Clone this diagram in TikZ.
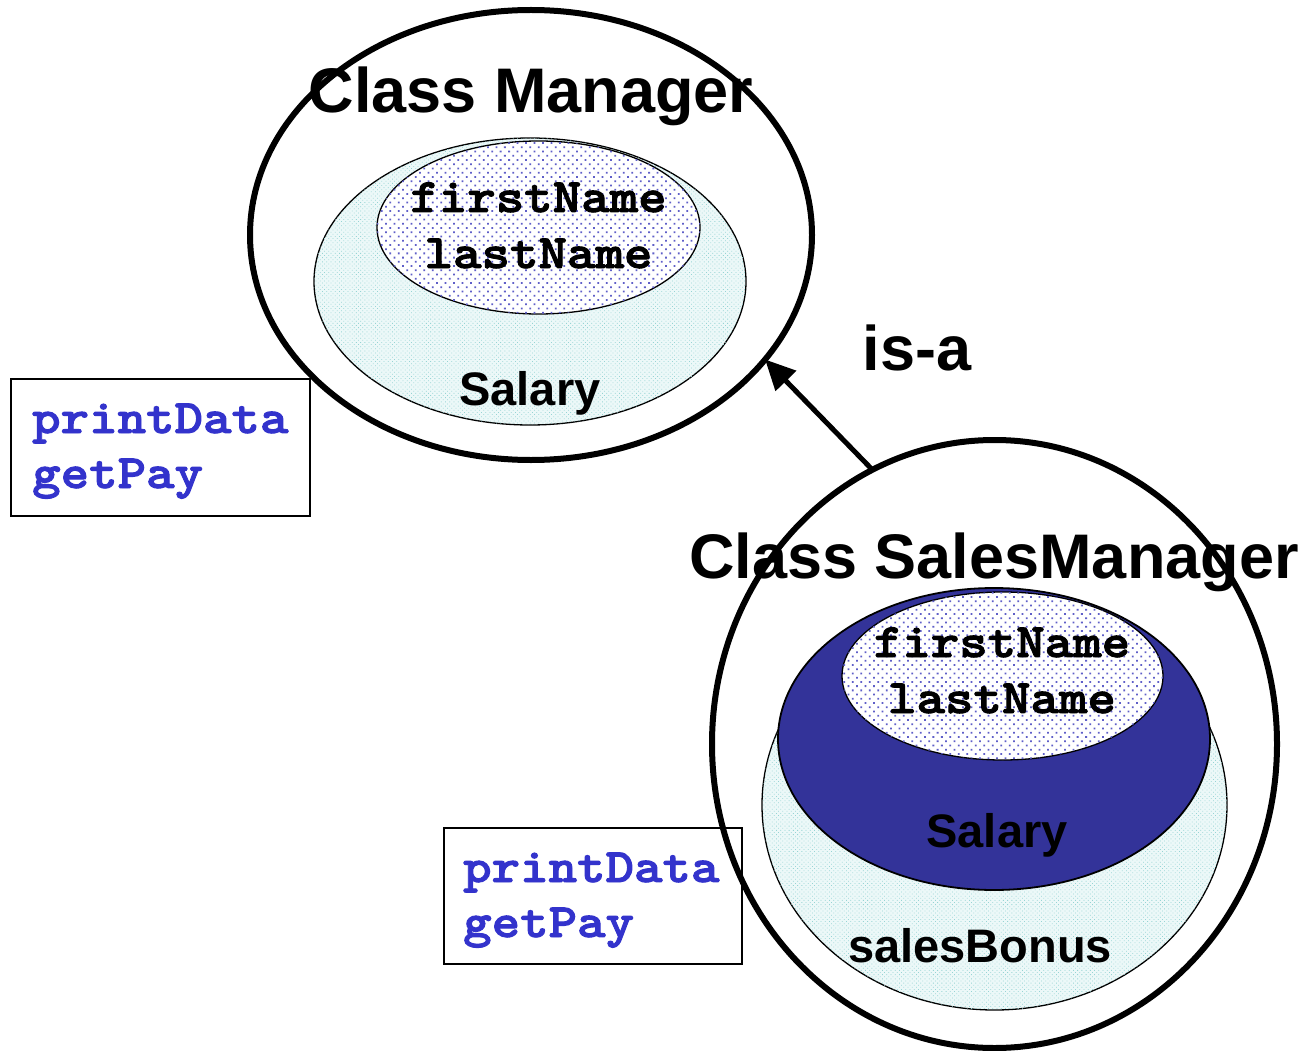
\documentclass[tikz,border=0pt]{standalone}
\usepackage{fontspec}
\setmainfont{Liberation Sans}
\newfontfamily\codefont[FakeStretch=1.13, FakeBold=2]{lmmonolt10-bold.otf}
\usetikzlibrary{shapes.geometric,arrows.meta,patterns.meta}

\definecolor{codeblue}{RGB}{51,51,204}
\definecolor{slotblue}{RGB}{51,51,153}
\definecolor{dotblue}{RGB}{95,95,200}
\definecolor{dotcyan}{RGB}{150,212,212}
\definecolor{paleCyan}{RGB}{236,248,248}

\tikzset{
  classring/.style={ellipse, draw=black, line width=6pt, inner sep=0pt, outer sep=0pt},
  fieldring/.style={ellipse, draw=black, line width=1.3pt, inner sep=0pt, outer sep=0pt},
  cyanfield/.style={fieldring, fill=paleCyan,
    postaction={pattern={Dots[distance=3pt, radius=0.55pt, angle=45]}, pattern color=dotcyan}},
  namefield/.style={fieldring, fill=white,
    postaction={pattern={Dots[distance=6pt, radius=1.25pt, angle=45]}, pattern color=dotblue}},
  darkfield/.style={fieldring, fill=slotblue, line width=1.8pt},
  classtitle/.style={anchor=base, font=\fontsize{63}{70}\selectfont\bfseries, inner sep=0pt},
  fieldtext/.style={anchor=base, font=\fontsize{47}{52}\selectfont\bfseries, inner sep=0pt},
  monotext/.style={anchor=base, font=\codefont\fontsize{48}{52}\selectfont, inner sep=0pt},
  methodtext/.style={anchor=base west, font=\codefont\fontsize{48}{52}\selectfont,
    text=codeblue, inner sep=0pt},
  methodbox/.style={draw=black, line width=1.8pt, fill=white, anchor=north west, inner sep=0pt},
  isa/.style={line width=5pt, -{Triangle[length=30pt, width=28pt]}},
}

\begin{document}
\begin{tikzpicture}[x=1pt, y=-1pt]
\useasboundingbox (0,0) rectangle (1309,1051);

% ---- class Manager ----
\node[classring, minimum width=562pt, minimum height=450pt] (mgr) at (531,235) {};
\node[cyanfield, minimum width=432pt, minimum height=287pt] (mgrsal) at (530,281.5) {};
\node[namefield, minimum width=323pt, minimum height=173pt] (mgrname) at (538.5,227.5) {};
\node[classtitle] (mgrtitle) at (531,113) {Class Manager};
\node[monotext] (mgrfirst) at (538.5,212) {firstName};
\node[monotext] (mgrlast) at (538.5,268) {lastName};
\node[fieldtext] (mgrsalary) at (530,405) {Salary};

\node[methodbox, minimum width=299pt, minimum height=137pt] (mgrbox) at (10,378) {};
\node[methodtext] (mgrprint) at (32,433) {printData};
\node[methodtext] (mgrpay) at (32,488) {getPay};

% ---- class SalesManager ----
\node[methodbox, minimum width=298pt, minimum height=136pt] (smbox) at (443,827) {};
\node[methodtext] (smprint) at (463,882) {printData};
\node[methodtext] (smpay) at (463,937) {getPay};

\node[classring, minimum width=565pt, minimum height=608pt] (sm) at (994.5,744) {};
\node[cyanfield, minimum width=465pt, minimum height=410pt] (smbonus) at (994.5,805) {};
\node[darkfield, minimum width=432pt, minimum height=302pt] (smsal) at (994,739) {};
\node[namefield, minimum width=321pt, minimum height=168pt] (smname) at (1002.5,676) {};
\node[classtitle] (smtitle) at (994,578) {Class SalesManager};
\node[monotext] (smfirst) at (1002,657) {firstName};
\node[monotext] (smlast) at (1002,713) {lastName};
\node[fieldtext] (smsalary) at (997,847) {Salary};
\node[fieldtext] (smbonustext) at (980,962) {salesBonus};

% ---- inheritance ----
\draw[isa] (sm.114) -- (mgr.-28.7);
\node[classtitle] (isalabel) at (917,370) {is-a};
\end{tikzpicture}
\end{document}
